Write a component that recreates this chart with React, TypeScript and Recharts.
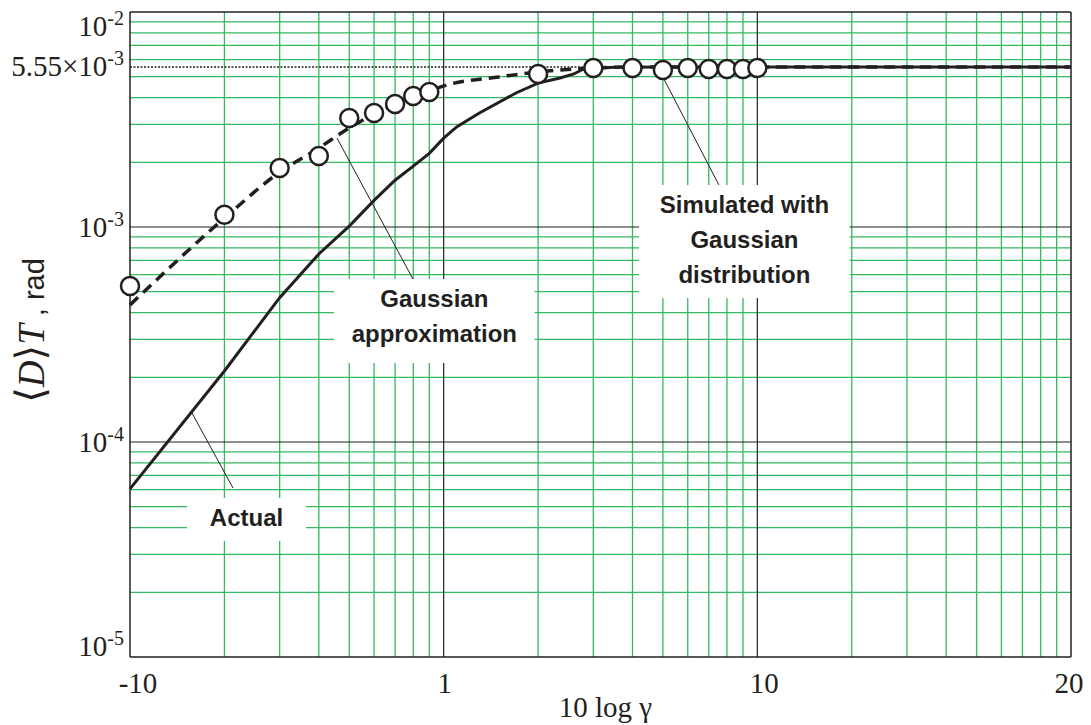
import React from "react";
import {
  ComposedChart,
  Line,
  Scatter,
  XAxis,
  YAxis,
  ReferenceLine,
  ReferenceArea,
} from "recharts";

// gamma positions on the log axis (rad)
const actualX = [0.1, 0.2, 0.3, 0.4, 0.5, 0.6, 0.7, 0.8, 0.9, 1, 1.1, 1.3, 1.7, 2, 2.35, 2.6, 2.8, 3.5, 5, 100];
const actualY = [6.05e-5, 2.14e-4, 4.69e-4, 7.49e-4, 1.01e-3, 1.33e-3, 1.65e-3, 1.92e-3, 2.2e-3, 2.59e-3, 2.92e-3, 3.39e-3, 4.2e-3, 4.67e-3, 4.93e-3, 5.15e-3, 5.45e-3, 5.53e-3, 5.55e-3, 5.55e-3];

const approxX = [0.1, 0.2, 0.3, 0.4, 0.5, 0.6, 0.7, 0.8, 0.9, 1, 1.5, 2, 3, 4, 100];
const approxY = [4.34e-4, 1.1e-3, 1.8e-3, 2.33e-3, 2.89e-3, 3.35e-3, 3.73e-3, 4.02e-3, 4.29e-3, 4.53e-3, 4.99e-3, 5.26e-3, 5.49e-3, 5.55e-3, 5.55e-3];

const simX = [0.1, 0.2, 0.3, 0.4, 0.5, 0.6, 0.7, 0.8, 0.9, 2, 3, 4, 5, 6, 7, 8, 9, 10];
const simY = [5.32e-4, 1.14e-3, 1.88e-3, 2.14e-3, 3.21e-3, 3.39e-3, 3.73e-3, 4.07e-3, 4.25e-3, 5.15e-3, 5.49e-3, 5.49e-3, 5.37e-3, 5.49e-3, 5.43e-3, 5.43e-3, 5.43e-3, 5.49e-3];

const xTicks = [0.1, 1, 10, 100];
const xTickLabels = ["-10", "1", "10", "20"];
const yTicks = [1e-5, 1e-4, 1e-3, 5.55e-3, 1e-2];
const yTickPrefix = ["", "", "", "5.55×", ""];
const yTickExp = ["-5", "-4", "-3", "-3", "-2"];
const limitValue = 5.55e-3;

// log grid
const xMinor = [0.2, 0.3, 0.4, 0.5, 0.6, 0.7, 0.8, 0.9, 2, 3, 4, 5, 6, 7, 8, 9, 20, 30, 40, 50, 60, 70, 80, 90];
const xMajor = [1, 10];
const yMinor = [2e-5, 3e-5, 4e-5, 5e-5, 6e-5, 7e-5, 8e-5, 9e-5, 2e-4, 3e-4, 4e-4, 5e-4, 6e-4, 7e-4, 8e-4, 9e-4, 2e-3, 3e-3, 4e-3, 5e-3, 6e-3, 7e-3, 8e-3, 9e-3];
const yMajor = [1e-4, 1e-3];

// annotation boxes and leader lines
const notes = [
  { lines: ["Simulated with", "Gaussian", "distribution"], x1: 4.2, x2: 19.7, y1: 4.67e-4, y2: 1.57e-3, from: { x: 5, y: 4.98e-3 }, to: { x: 7.54, y: 1.57e-3 } },
  { lines: ["Gaussian", "approximation"], x1: 0.447, x2: 1.95, y1: 2.33e-4, y2: 5.73e-4, from: { x: 0.457, y: 2.59e-3 }, to: { x: 0.798, y: 5.73e-4 } },
  { lines: ["Actual"], x1: 0.152, x2: 0.364, y1: 3.46e-5, y2: 5.49e-5, from: { x: 0.1576, y: 1.364e-4 }, to: { x: 0.213, y: 6.11e-5 } },
];

const actualData = actualX.map((x, i) => ({ x, y: actualY[i] }));
const approxData = approxX.map((x, i) => ({ x, y: approxY[i] }));
const simData = simX.map((x, i) => ({ x, y: simY[i] }));

const ink = "#231f20";
const green = "#34b860";
const serif = "'Liberation Serif', 'Times New Roman', serif";
const sans = "'Liberation Sans', Arial, sans-serif";
const thin = "'DejaVu Sans ExtraLight', 'DejaVu Sans', sans-serif";

const yBaseShift = [-1, 10, 10, 9, 24];
const xShift = [8, 1, 7, -2];

function YTick(props: any) {
  const { x, y, payload } = props;
  const i = yTicks.indexOf(payload.value);
  return (
    <text x={x - 6} y={y + yBaseShift[i]} textAnchor="end" fontFamily={serif} fontSize={29} fill={ink}>
      {yTickPrefix[i]}10
      <tspan dy={-11} fontSize={20}>
        {yTickExp[i]}
      </tspan>
    </text>
  );
}

function XTick(props: any) {
  const { x, y, payload } = props;
  const i = xTicks.indexOf(payload.value);
  return (
    <text x={x + xShift[i]} y={y + 36} textAnchor="middle" fontFamily={serif} fontSize={29} fill={ink}>
      {xTickLabels[i]}
    </text>
  );
}

function XTitle(props: any) {
  const vb = props.viewBox;
  return (
    <text x={vb.x + vb.width / 2 + 5} y={vb.y + 60} textAnchor="middle" fontFamily={serif} fontSize={29} fill={ink}>
      10 log γ
    </text>
  );
}

function YTitle(props: any) {
  const vb = props.viewBox;
  const cx = vb.x + 44;
  const cy = vb.y + vb.height / 2 - 4;
  return (
    <text x={cx} y={cy} transform={`rotate(-90, ${cx}, ${cy})`} textAnchor="middle" fill={ink}>
      <tspan fontFamily={thin} fontSize={40}>⟨</tspan>
      <tspan fontFamily={serif} fontStyle="italic" fontSize={37}>D</tspan>
      <tspan fontFamily={thin} fontSize={40}>⟩</tspan>
      <tspan fontFamily={serif} fontStyle="italic" fontSize={37}>T</tspan>
      <tspan fontFamily={sans} fontSize={29}> , rad</tspan>
    </text>
  );
}

function NoteText(lines: string[]) {
  return (props: any) => {
    const vb = props.viewBox;
    const cx = vb.x + vb.width / 2;
    return (
      <text textAnchor="middle" fontFamily={sans} fontWeight="bold" fontSize={24} fill={ink}>
        {lines.map((t, k) => (
          <tspan key={k} x={cx} y={vb.y + 28 + k * 35}>
            {t}
          </tspan>
        ))}
      </text>
    );
  };
}

function Ring(props: any) {
  const { cx, cy } = props;
  return <circle cx={cx} cy={cy} r={9} fill="#fff" stroke={ink} strokeWidth={2.5} />;
}

export default function App() {
  return (
    <div style={{ position: "absolute", left: 0, top: 0, width: 1091, height: 725, background: "#fff" }}>
      <ComposedChart width={1091} height={725} margin={{ top: 12, right: 20, bottom: 0, left: 0 }}>
        <XAxis
          dataKey="x"
          type="number"
          scale="log"
          domain={[0.1, 100]}
          ticks={xTicks}
          interval={0}
          tickLine={false}
          tickSize={0}
          tickMargin={0}
          tick={<XTick />}
          height={68}
          axisLine={{ stroke: ink, strokeWidth: 1.5 }}
          label={<XTitle />}
        />
        <YAxis
          dataKey="y"
          type="number"
          scale="log"
          domain={[1e-5, 1e-2]}
          ticks={yTicks}
          interval={0}
          tickLine={false}
          tickSize={0}
          tickMargin={0}
          tick={<YTick />}
          width={130}
          axisLine={{ stroke: ink, strokeWidth: 1.5 }}
          label={<YTitle />}
        />

        {xMinor.map((v) => (
          <ReferenceLine key={`xm${v}`} x={v} stroke={green} strokeWidth={1.3} zIndex={10} />
        ))}
        {yMinor.map((v) => (
          <ReferenceLine key={`ym${v}`} y={v} stroke={green} strokeWidth={1.3} zIndex={10} />
        ))}
        {xMajor.map((v) => (
          <ReferenceLine key={`xM${v}`} x={v} stroke={ink} strokeWidth={1.2} zIndex={20} />
        ))}
        {yMajor.map((v) => (
          <ReferenceLine key={`yM${v}`} y={v} stroke={ink} strokeWidth={1.2} zIndex={20} />
        ))}
        <ReferenceLine x={100} stroke={ink} strokeWidth={1.5} zIndex={20} />
        <ReferenceLine y={1e-2} stroke={ink} strokeWidth={1.5} zIndex={20} />

        {notes.map((n, k) => (
          <ReferenceArea
            key={`box${k}`}
            x1={n.x1}
            x2={n.x2}
            y1={n.y1}
            y2={n.y2}
            fill="#fff"
            fillOpacity={1}
            stroke="none"
            zIndex={30}
            label={NoteText(n.lines)}
          />
        ))}
        {notes.map((n, k) => (
          <ReferenceLine key={`lead${k}`} segment={[n.from, n.to]} stroke={ink} strokeWidth={1} zIndex={40} />
        ))}
        <ReferenceLine y={limitValue} stroke={ink} strokeWidth={1.5} strokeDasharray="2 1.5" zIndex={45} />

        <Line
          data={actualData}
          dataKey="y"
          type="linear"
          stroke={ink}
          strokeWidth={3}
          dot={false}
          isAnimationActive={false}
          zIndex={400}
        />
        <Line
          data={approxData}
          dataKey="y"
          type="monotone"
          stroke={ink}
          strokeWidth={3.5}
          strokeDasharray="11 7"
          dot={false}
          isAnimationActive={false}
          zIndex={410}
        />
        <Scatter data={simData} dataKey="y" shape={<Ring />} isAnimationActive={false} zIndex={700} />
      </ComposedChart>
    </div>
  );
}
